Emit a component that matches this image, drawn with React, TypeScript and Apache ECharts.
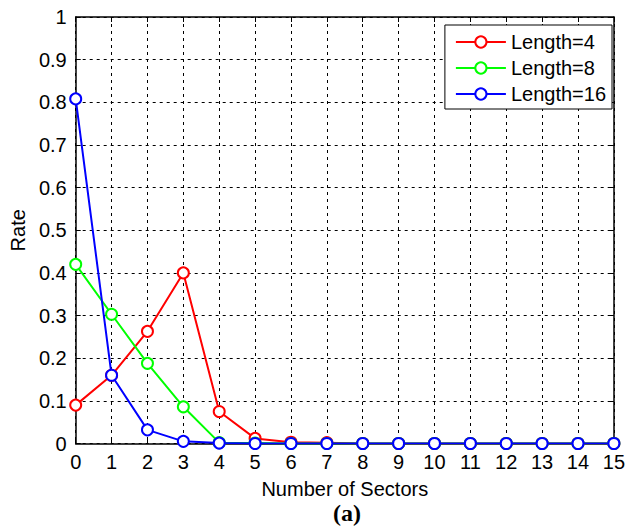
import React, { useEffect, useRef } from "react";
import * as echarts from "echarts";

const sectors = [0, 1, 2, 3, 4, 5, 6, 7, 8, 9, 10, 11, 12, 13, 14, 15];
const len4 = [0.09, 0.16, 0.263, 0.4, 0.075, 0.012, 0.003, 0.002, 0, 0, 0, 0, 0, 0, 0, 0];
const len8 = [0.42, 0.303, 0.188, 0.086, 0.002, 0.001, 0, 0, 0, 0, 0, 0, 0, 0, 0, 0];
const len16 = [0.808, 0.16, 0.032, 0.005, 0.001, 0, 0, 0, 0, 0, 0, 0, 0, 0, 0, 0];
const seriesNames = ["Length=4", "Length=8", "Length=16"];
const seriesColors = ["#ff0000", "#00ff00", "#0000ff"];

const FONT = "Liberation Sans, Arial, sans-serif";

export default function App() {
  const ref = useRef<HTMLDivElement>(null);
  useEffect(() => {
    if (!ref.current) return;
    const chart = echarts.init(ref.current, undefined, { renderer: "svg" });
    const values = [len4, len8, len16];
    const axisCommon = {
      axisLine: { show: true, onZero: false, lineStyle: { color: "#000", width: 1.5 } },
      axisTick: { show: true, inside: true, length: 5, lineStyle: { color: "#000", width: 1 } },
    };
    chart.setOption({
      animation: false,
      backgroundColor: "#fff",
      title: {
        text: "(a)",
        left: 347,
        textAlign: "center",
        top: 501,
        padding: 0,
        textStyle: { fontFamily: "Liberation Serif, Times New Roman, serif", fontWeight: "bold", fontSize: 24, color: "#000" },
      },
      grid: { left: 75, right: 9, top: 17, bottom: 82.5, containLabel: false },
      legend: {
        orient: "vertical",
        right: 16,
        top: 25,
        backgroundColor: "#fff",
        borderColor: "#000",
        borderWidth: 1,
        borderRadius: 0,
        padding: [7, 6, 5, 10],
        itemWidth: 50,
        itemHeight: 14,
        itemGap: 6,
        textStyle: { fontFamily: FONT, fontSize: 20, color: "#000" },
        data: seriesNames,
      },
      xAxis: [
        {
          type: "value",
          min: 0,
          max: 15,
          interval: 1,
          name: "Number of Sectors",
          nameLocation: "middle",
          nameGap: 35,
          nameTextStyle: { fontFamily: FONT, fontSize: 20, color: "#000" },
          ...axisCommon,
          axisLabel: { fontFamily: FONT, fontSize: 20, color: "#000", margin: 8 },
          splitLine: { show: true, lineStyle: { color: "#000", type: [3, 4], width: 1 } },
        },
        {
          type: "value",
          position: "top",
          min: 0,
          max: 15,
          interval: 1,
          ...axisCommon,
          axisLabel: { show: false },
          splitLine: { show: false },
        },
      ],
      yAxis: [
        {
          type: "value",
          min: 0,
          max: 1,
          interval: 0.1,
          name: "Rate",
          nameLocation: "middle",
          nameGap: 45,
          nameTextStyle: { fontFamily: FONT, fontSize: 20, color: "#000" },
          ...axisCommon,
          axisLabel: { fontFamily: FONT, fontSize: 20, color: "#000", margin: 9 },
          splitLine: { show: true, lineStyle: { color: "#000", type: [3, 4], width: 1 } },
        },
        {
          type: "value",
          position: "right",
          min: 0,
          max: 1,
          interval: 0.1,
          ...axisCommon,
          axisLabel: { show: false },
          splitLine: { show: false },
        },
      ],
      series: values.map((vals, i) => ({
        name: seriesNames[i],
        type: "line",
        xAxisIndex: 0,
        yAxisIndex: 0,
        data: sectors.map((s, j) => [s, vals[j]]),
        color: seriesColors[i],
        symbol: "emptyCircle",
        symbolSize: 11,
        showAllSymbol: true,
        lineStyle: { color: seriesColors[i], width: 2 },
        itemStyle: { color: seriesColors[i], borderColor: seriesColors[i], borderWidth: 2 },
        z: 2 + i,
      })),
    });
    return () => chart.dispose();
  }, []);
  return <div ref={ref} style={{ width: 628, height: 526, position: "absolute", left: 0, top: 0 }} />;
}
